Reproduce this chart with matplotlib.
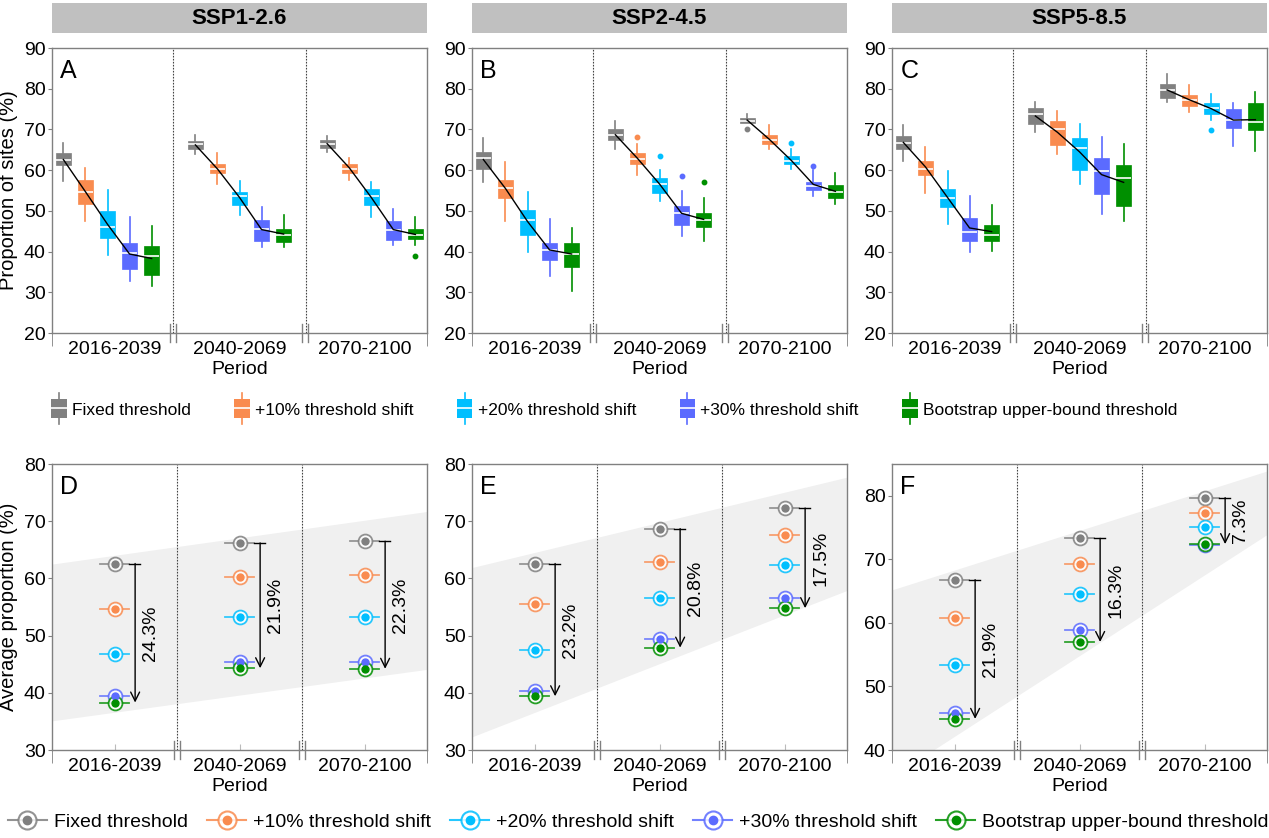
import numpy as np
import matplotlib
matplotlib.use('Agg')
import matplotlib.pyplot as plt
from matplotlib.legend_handler import HandlerBase
from matplotlib.patches import Rectangle, Patch
from matplotlib.lines import Line2D

plt.rcParams['font.family'] = ['Liberation Sans', 'DejaVu Sans']

scenarios = ['SSP1-2.6', 'SSP2-4.5', 'SSP5-8.5']
periods = ['2016-2039', '2040-2069', '2070-2100']
thresholds = ['Fixed threshold', '+10% threshold shift', '+20% threshold shift',
              '+30% threshold shift', 'Bootstrap upper-bound threshold']
colors = ['#808080', '#f98b4f', '#00bfff', '#5b6bff', '#008f00']

# box stats per period and threshold: [whislo, q1, med, q3, whishi]
box_ssp126 = [
    [[57.3, 61.2, 62.5, 64.1, 66.7], [47.6, 51.8, 54.7, 57.6, 60.6], [39.2, 43.3, 46.1, 50.0, 55.1],
     [32.8, 35.7, 39.6, 42.2, 48.4], [31.6, 34.2, 38.9, 41.4, 46.3]],
    [[63.9, 65.1, 66.3, 67.1, 68.6], [56.7, 59.2, 60.2, 61.4, 64.1], [49.0, 51.4, 53.6, 54.7, 57.4],
     [41.2, 42.7, 45.5, 47.8, 51.0], [41.1, 42.3, 44.1, 45.6, 49.0]],
    [[64.5, 65.5, 66.4, 67.4, 68.3], [57.6, 59.2, 60.4, 61.6, 63.1], [48.4, 51.4, 53.6, 55.3, 57.0],
     [41.6, 42.9, 45.3, 47.5, 50.5], [41.6, 43.0, 44.1, 45.5, 48.4]],
]
box_ssp245 = [
    [[57.2, 60.4, 62.9, 64.5, 68.0], [47.6, 53.1, 55.5, 57.6, 62.1], [40.0, 44.1, 47.8, 50.2, 54.7],
     [34.0, 38.0, 40.4, 42.2, 48.0], [30.4, 36.3, 39.4, 42.0, 45.9]],
    [[65.3, 67.5, 68.6, 70.0, 72.1], [58.8, 61.4, 62.7, 64.1, 66.4], [52.3, 54.5, 56.5, 58.1, 60.0],
     [43.8, 46.5, 49.4, 51.3, 54.9], [42.6, 46.1, 47.8, 49.4, 53.2]],
    [[71.5, 71.7, 72.1, 72.7, 73.9], [65.3, 66.3, 67.4, 68.6, 71.0], [60.4, 61.5, 62.3, 63.4, 65.1],
     [53.6, 55.1, 56.2, 57.2, 60.0], [51.8, 53.2, 54.7, 56.3, 59.4]],
]
box_ssp585 = [
    [[62.2, 65.2, 66.7, 68.3, 71.0], [54.5, 58.8, 60.4, 62.2, 65.7], [46.7, 50.9, 53.1, 55.3, 59.8],
     [40.0, 42.7, 44.9, 48.2, 53.6], [40.2, 42.5, 44.1, 46.5, 51.4]],
    [[69.4, 71.3, 73.9, 75.3, 76.8], [63.9, 66.1, 70.1, 72.1, 74.5], [56.7, 60.0, 65.5, 67.9, 71.3],
     [49.2, 54.1, 59.9, 63.0, 68.2], [47.5, 51.3, 58.1, 61.2, 66.4]],
    [[76.8, 77.8, 79.8, 81.1, 83.5], [74.3, 75.8, 77.2, 78.5, 80.8], [72.3, 73.9, 75.3, 76.6, 78.8],
     [66.0, 70.4, 72.4, 75.1, 76.4], [64.8, 69.8, 71.9, 76.4, 79.1]],
]
# outliers: (period, threshold, value)
fliers_ssp126 = [(2, 4, 39.0)]
fliers_ssp245 = [(1, 1, 68.2), (1, 2, 63.4), (1, 3, 58.6), (1, 4, 57.2),
                 (2, 0, 70.2), (2, 2, 66.6), (2, 3, 61.0)]
fliers_ssp585 = [(2, 2, 69.8)]

# average proportion per period and threshold
means_ssp126 = [[62.6, 54.7, 46.7, 39.4, 38.3], [66.2, 60.3, 53.3, 45.4, 44.3], [66.5, 60.6, 53.3, 45.4, 44.2]]
means_ssp245 = [[62.6, 55.5, 47.4, 40.4, 39.4], [68.7, 62.9, 56.6, 49.4, 47.9], [72.3, 67.6, 62.4, 56.5, 54.8]]
means_ssp585 = [[66.8, 60.8, 53.3, 45.8, 44.9], [73.3, 69.3, 64.5, 58.9, 57.0], [79.7, 77.3, 75.1, 72.3, 72.4]]

drop_labels = [['24.3%', '21.9%', '22.3%'], ['23.2%', '20.8%', '17.5%'], ['21.9%', '16.3%', '7.3%']]

# shaded band edges at x=0 and x=3
band_upper = [[62.5, 71.7], [61.9, 77.7], [65.2, 83.9]]
band_lower = [[35.1, 44.1], [32.3, 57.9], [35.8, 73.9]]

boxes = [box_ssp126, box_ssp245, box_ssp585]
fliers = [fliers_ssp126, fliers_ssp245, fliers_ssp585]
means = [means_ssp126, means_ssp245, means_ssp585]
top_letters = ['A', 'B', 'C']
bot_letters = ['D', 'E', 'F']
bot_ylims = [(30, 80), (30, 80), (40, 85)]

fig = plt.figure(figsize=(12.69, 8.38), dpi=100)

lefts = [52, 472, 892]
W = 1269.0
H = 838.0
aw = 375
group_c = [0.444, 1.5, 2.554]
offs = (np.arange(5) - 2) * 0.1765
spine_c = '#808080'


def break_marks(breaks):
    out = []
    for b in breaks:
        out += [b - 0.027, b + 0.02]
    return out


def style_axes(ax, ylim, yticks, breaks, inner_ticks):
    ax.set_xlim(0, 3)
    ax.set_ylim(*ylim)
    ax.set_yticks(yticks)
    ax.set_xticks([0.5, 1.5, 2.5])
    ax.set_xticklabels(periods)
    ax.set_xticks([0, 3], minor=True)
    for s in ax.spines.values():
        s.set_color(spine_c)
        s.set_linewidth(1)
    ax.tick_params(axis='y', direction='out', length=3, color=spine_c, labelsize=14, pad=1.5)
    ax.tick_params(axis='x', which='major', direction='in', length=4 if inner_ticks else 0,
                   color='#bbbbbb', labelsize=14, pad=6)
    ax.tick_params(axis='x', which='minor', direction='out', length=9, color=spine_c)
    ax.set_xlabel('Period', fontsize=14, labelpad=2)
    tr = ax.get_xaxis_transform()
    for b in breaks:
        ax.axvline(b, color='#444444', lw=0.8, ls=(0, (1.5, 1.2)), zorder=1)
    for bm in break_marks(breaks):
        ax.plot([bm, bm], [-0.032, 0.032], transform=tr, color=spine_c, lw=1, clip_on=False)


# ---------- top row: box plots ----------
for i in range(3):
    l = lefts[i] / W
    ax = fig.add_axes([l, 1 - 333 / H, aw / W, 285 / H])
    strip = fig.add_axes([l, 1 - 33 / H, aw / W, 30 / H])
    strip.set_facecolor('#c0c0c0')
    strip.set_xticks([])
    strip.set_yticks([])
    for s in strip.spines.values():
        s.set_visible(False)
    strip.text(0.5, 0.47, scenarios[i], ha='center', va='center', fontsize=16, fontweight='bold')

    for p in range(3):
        xs = group_c[p] + offs
        for t in range(5):
            st = boxes[i][p][t]
            fl = [v for (pp, tt, v) in fliers[i] if pp == p and tt == t]
            stats = [dict(whislo=st[0], q1=st[1], med=st[2], q3=st[3], whishi=st[4], fliers=fl)]
            c = colors[t]
            ax.bxp(stats, positions=[xs[t]], widths=0.12, patch_artist=True, showcaps=False,
                   manage_ticks=False,
                   boxprops=dict(facecolor=c, edgecolor=c, lw=0.5),
                   medianprops=dict(color='white', lw=1.2),
                   whiskerprops=dict(color=c, lw=1.2),
                   flierprops=dict(marker='o', mfc=c, mec=c, ms=3.2))
        ax.plot(xs, means[i][p], color='k', lw=1, zorder=5)

    style_axes(ax, (20, 90), range(20, 91, 10), [0.97, 2.03], False)
    ax.text(0.022, 0.96, top_letters[i], transform=ax.transAxes, ha='left', va='top', fontsize=18)
    if i == 0:
        ax.set_ylabel('Proportion of sites (%)', fontsize=14.5, labelpad=4)

# ---------- bottom row: average proportions ----------
for i in range(3):
    l = lefts[i] / W
    ax = fig.add_axes([l, 1 - 750 / H, aw / W, 286 / H])
    ax.fill_between([0, 3], band_lower[i], band_upper[i], color='#f0f0f0', lw=0, zorder=0)
    for p in range(3):
        x = 0.5 + p
        vals = means[i][p]
        for t in range(5):
            c = colors[t]
            v = vals[t]
            ax.plot([x - 0.113, x + 0.113], [v, v], color=c, lw=1.3, alpha=0.8, zorder=3)
            ax.plot(x, v, 'o', ms=10, mfc='white', mec=c, mew=1.3, alpha=0.85, zorder=3)
            ax.plot(x, v, 'o', ms=5, color=c, zorder=4)
        top, bot = vals[0], vals[4]
        ax.plot([x + 0.113, x + 0.2], [top, top], color='k', lw=1, zorder=3)
        ax.annotate('', xy=(x + 0.165, bot), xytext=(x + 0.165, top),
                    arrowprops=dict(arrowstyle='->', color='k', lw=1, shrinkA=0, shrinkB=0,
                                    mutation_scale=16))
        ax.text(x + 0.29, (top + bot) / 2, drop_labels[i][p], rotation=90, ha='center',
                va='center', fontsize=14)
    y0, y1 = bot_ylims[i]
    style_axes(ax, (y0, y1), range(y0, 81, 10), [1.0, 2.0], True)
    ax.text(0.022, 0.96, bot_letters[i], transform=ax.transAxes, ha='left', va='top', fontsize=18)
    if i == 0:
        ax.set_ylabel('Average proportion (%)', fontsize=14.5, labelpad=4)


# ---------- legends ----------
class BoxHandler(HandlerBase):
    def create_artists(self, legend, orig_handle, xdescent, ydescent, width, height, fontsize, trans):
        c = orig_handle.get_facecolor()
        cx = width / 2 - xdescent
        cy = height / 2 - ydescent
        bw, bh, wh = 11, 14, 23
        whisk = Line2D([cx, cx], [cy - wh / 2, cy + wh / 2], color=c, lw=1.2, transform=trans)
        box = Rectangle((cx - bw / 2, cy - bh / 2), bw, bh, facecolor=c, edgecolor='none',
                        transform=trans)
        med = Line2D([cx - bw / 2, cx + bw / 2], [cy, cy], color='white', lw=1.2, transform=trans)
        return [whisk, box, med]


box_handles = [Patch(facecolor=c) for c in colors]
fig.legend(box_handles, thresholds, loc='center', bbox_to_anchor=(0.484, 1 - 410 / H), ncol=5,
           frameon=False, fontsize=12.5, handlelength=0.9, handletextpad=0.3, columnspacing=2.5,
           handler_map={Patch: BoxHandler()})

pt_handles = [(Line2D([], [], color=c, lw=1.5, marker='o', ms=13, mfc='white', mec=c, mew=1.5, alpha=0.85),
               Line2D([], [], ls='none', marker='o', ms=6, color=c)) for c in colors]
fig.legend(pt_handles, thresholds, loc='center', bbox_to_anchor=(0.503, 1 - 822 / H), ncol=5,
           frameon=False, fontsize=14, handlelength=2.0, handletextpad=0.35, columnspacing=1.0,
           numpoints=1)

fig.savefig('out.png', dpi=100)
